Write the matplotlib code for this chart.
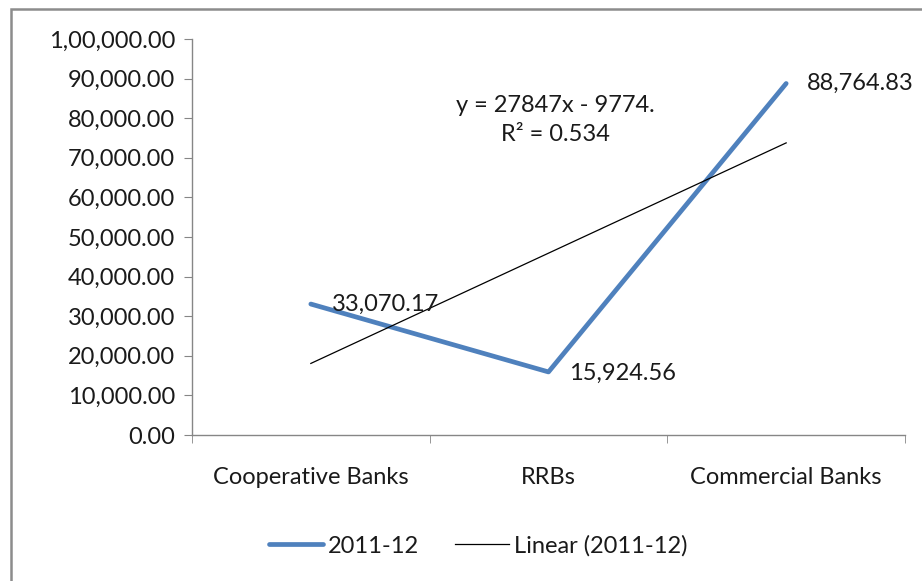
import matplotlib
matplotlib.use("Agg")
import matplotlib.pyplot as plt
from matplotlib.patches import Rectangle
from matplotlib.ticker import FuncFormatter, FixedLocator
import numpy as np

categories = ["Cooperative Banks", "RRBs", "Commercial Banks"]
values = [33070.17, 15924.56, 88764.83]
value_labels = ["33,070.17", "15,924.56", "88,764.83"]
series_name = "2011-12"
trend_name = "Linear (2011-12)"
equation_text = "y = 27847x - 9774.\nR² = 0.534"
y_ticks = list(range(0, 100001, 10000))

plt.rcParams['font.family'] = ['Lato', 'DejaVu Sans']
FS = 17

def indian(v, pos=None):
    s = f"{v:.2f}"
    ip, dp = s.split(".")
    if len(ip) > 3:
        head, tail = ip[:-3], ip[-3:]
        groups = []
        while len(head) > 2:
            groups.insert(0, head[-2:])
            head = head[:-2]
        if head:
            groups.insert(0, head)
        ip = ",".join(groups + [tail])
    return ip + "." + dp

fig = plt.figure(figsize=(9.22, 5.81), dpi=100)
W, H = 922, 581
ax = fig.add_axes([192 / W, 1 - 435 / H, (905 - 192) / W, (435 - 39) / H])

x = np.arange(1, len(categories) + 1)
blue = "#4f81bd"
ax.plot(x, values, color=blue, lw=3.4, solid_capstyle="round", label=series_name, zorder=3)

coef = np.polyfit(x, values, 1)
xt = np.array([x[0], x[-1]])
ax.plot(xt, np.polyval(coef, xt), color="black", lw=0.9, label=trend_name, zorder=4)

ax.set_xlim(0.5, len(categories) + 0.5)
ax.set_ylim(0, 100000)
ax.yaxis.set_major_locator(FixedLocator(y_ticks))
ax.yaxis.set_major_formatter(FuncFormatter(indian))
ax.set_xticks(x)
ax.set_xticklabels(categories)
ax.set_xticks(np.arange(0.5, len(categories) + 1, 1), minor=True)

gray = "#868686"
for sp in ["top", "right"]:
    ax.spines[sp].set_visible(False)
for sp in ["left", "bottom"]:
    ax.spines[sp].set_color(gray)
    ax.spines[sp].set_linewidth(1.0)

ax.tick_params(axis="y", direction="out", length=6, color=gray, labelsize=FS, pad=6, labelcolor="#1a1a1a")
ax.tick_params(axis="x", which="major", length=0, labelsize=FS, pad=23, labelcolor="#1a1a1a")
ax.tick_params(axis="x", which="minor", direction="out", length=6, color=gray)

offsets = [(15, 0), (15, -1), (15, 0)]
for xi, v, lab, off in zip(x, values, value_labels, offsets):
    ax.annotate(lab, (xi, v), xytext=off, textcoords="offset points", ha="left",
                va="center", fontsize=FS, color="#1a1a1a", zorder=5)

ax.text(2.03, 79500, equation_text, ha="center", va="center", fontsize=FS,
        color="#1a1a1a", linespacing=1.5)

leg = fig.legend(loc="center", bbox_to_anchor=(478 / W, 1 - 546 / H), ncol=2,
                 frameon=False, fontsize=FS, handlelength=2.3, columnspacing=1.5,
                 handletextpad=0.2)
for t in leg.get_texts():
    t.set_color("#1a1a1a")

fig.patches.append(Rectangle((11 / W, -0.05), 1.2, 1 - 9 / H + 0.05, transform=fig.transFigure,
                             fill=False, edgecolor="#8c8c8c", lw=1.8))

fig.savefig("out.png", dpi=100)
